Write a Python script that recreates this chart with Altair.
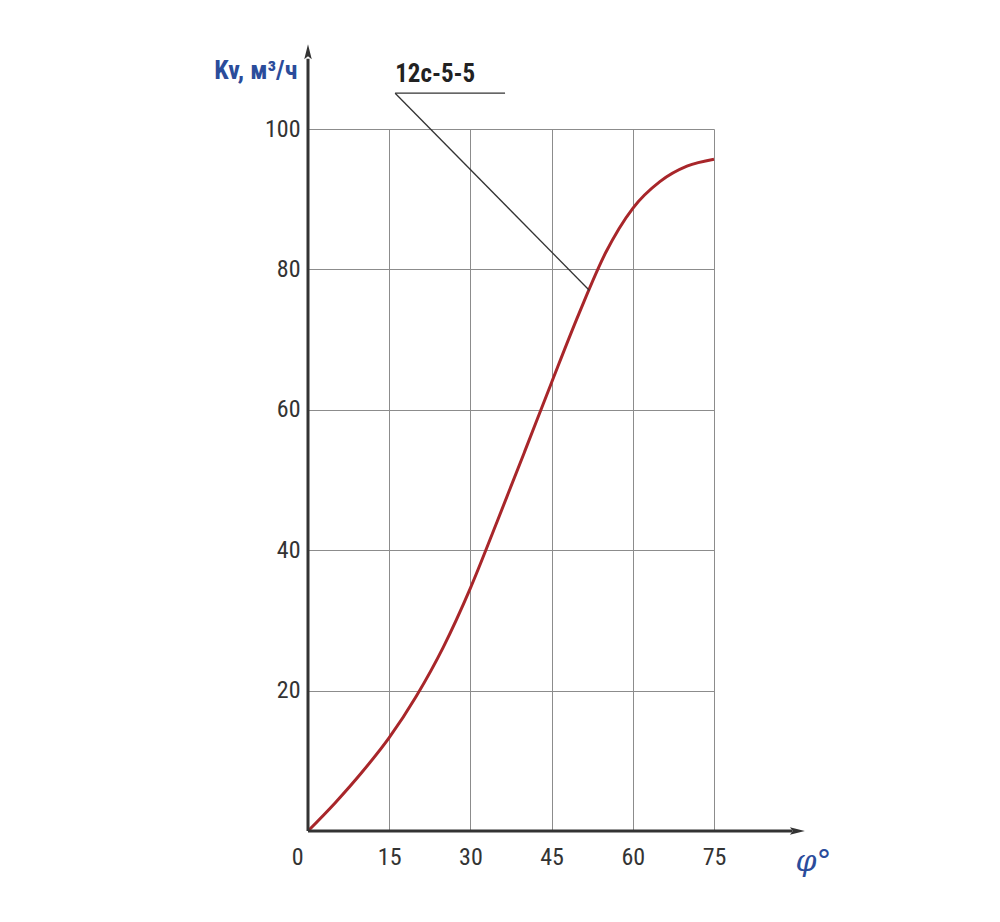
import altair as alt
import pandas as pd

# Curve data (phi in degrees, Kv in m3/h)
phi = [0, 5, 10, 15, 20, 25, 30, 35, 40, 45, 50, 55, 60, 65, 70, 75]
kv = [0, 4.0, 8.4, 13.3, 19.2, 26.2, 34.6, 44.2, 54.0, 63.9, 73.6, 82.4, 88.7, 92.5, 94.7, 95.7]

x_ticks = [0, 15, 30, 45, 60, 75]
y_ticks = [20, 40, 60, 80, 100]

# annotation (data coordinates)
label_text = "12с-5-5"
label_x = [16.1]
label_y = [106.0]
underline_x = [16.1, 36.4]
underline_y = [105.1, 105.1]
leader_x = [16.1, 52.0]
leader_y = [105.1, 77.0]

# axis arrow extents (data coordinates)
x_axis_end = [89.5]
y_axis_end = [110.0]

FONT = "Roboto Condensed, Liberation Sans Narrow, Roboto"
BLUE = "#2b4c9b"
RED = "#a8262a"
DARK = "#333333"

df = pd.DataFrame({"phi": phi, "kv": kv})

xs = alt.Scale(domain=[0, 75], nice=False, zero=False)
ys = alt.Scale(domain=[0, 100], nice=False, zero=False)

x_axis = alt.Axis(
    values=x_ticks, domain=False, ticks=False, grid=True,
    gridColor="#8c8c8c", gridWidth=1,
    labelFont=FONT, labelFontSize=24, labelColor="#333333",
    labelPadding=14,
    labelOffset=alt.condition("datum.value == 0", alt.value(-5), alt.value(0)),
    labelAlign=alt.condition("datum.value == 0", alt.value("right"), alt.value("center")),
    title="φ°", titleFont="DejaVu Serif", titleFontStyle="italic",
    titleFontWeight="normal", titleFontSize=30, titleColor=BLUE,
    titleAlign="left", titleBaseline="middle", titleX=487, titleY=30,
)
y_axis = alt.Axis(
    values=y_ticks, domain=False, ticks=False, grid=True,
    gridColor="#8c8c8c", gridWidth=1,
    labelFont=FONT, labelFontSize=24, labelColor="#333333",
    labelPadding=8,
    title="Kv, м³/ч", titleFont=FONT, titleFontWeight="bold",
    titleFontSize=26, titleColor=BLUE, titleAngle=0,
    titleAlign="right", titleBaseline="middle", titleX=-11, titleY=-59,
)

curve = alt.Chart(df).mark_line(color=RED, strokeWidth=3, interpolate="monotone").encode(
    x=alt.X("phi:Q", scale=xs, axis=x_axis),
    y=alt.Y("kv:Q", scale=ys, axis=y_axis),
)

# axis lines
xline = alt.Chart(pd.DataFrame({"x": [0], "x2": x_axis_end, "y": [0]})).mark_rule(
    color=DARK, strokeWidth=3, clip=False
).encode(x=alt.X("x:Q", scale=xs), x2="x2:Q", y=alt.Y("y:Q", scale=ys))
yline = alt.Chart(pd.DataFrame({"x": [0], "y": [0], "y2": y_axis_end})).mark_rule(
    color=DARK, strokeWidth=3, clip=False
).encode(x=alt.X("x:Q", scale=xs), y=alt.Y("y:Q", scale=ys), y2="y2:Q")

xarrow = alt.Chart(pd.DataFrame({"x": [x_axis_end[0] + 0.9], "y": [0]})).mark_point(
    shape="M-1,-0.5 L1,0 L-1,0.5 L-0.6,0 Z", size=225, filled=True, color=DARK,
    opacity=1, clip=False
).encode(x=alt.X("x:Q", scale=xs), y=alt.Y("y:Q", scale=ys))
yarrow = alt.Chart(pd.DataFrame({"x": [0], "y": [y_axis_end[0] + 1.0]})).mark_point(
    shape="M-0.5,1 L0,-1 L0.5,1 L0,0.6 Z", size=225, filled=True, color=DARK,
    opacity=1, clip=False
).encode(x=alt.X("x:Q", scale=xs), y=alt.Y("y:Q", scale=ys))

# annotation
underline = alt.Chart(pd.DataFrame({"x": underline_x, "y": underline_y})).mark_line(
    color=DARK, strokeWidth=1.3, clip=False
).encode(x=alt.X("x:Q", scale=xs), y=alt.Y("y:Q", scale=ys))
leader = alt.Chart(pd.DataFrame({"x": leader_x, "y": leader_y})).mark_line(
    color=DARK, strokeWidth=1.3, clip=False
).encode(x=alt.X("x:Q", scale=xs), y=alt.Y("y:Q", scale=ys))
label = alt.Chart(pd.DataFrame({"x": label_x, "y": label_y, "t": [label_text]})).mark_text(
    align="left", baseline="bottom", font=FONT, fontSize=25, fontWeight="bold",
    color="#222222", clip=False
).encode(x=alt.X("x:Q", scale=xs), y=alt.Y("y:Q", scale=ys), text="t:N")

chart = alt.layer(
    curve, underline, leader, label, xline, yline, xarrow, yarrow
).properties(
    width=406, height=702,
    autosize=alt.AutoSizeParams(type="none"),
    padding={"left": 300, "top": 121, "right": 180, "bottom": 80},
).configure_view(stroke=None).resolve_scale(x="shared", y="shared")

chart.save("out.html", embed_options={"renderer": "svg", "actions": False})
